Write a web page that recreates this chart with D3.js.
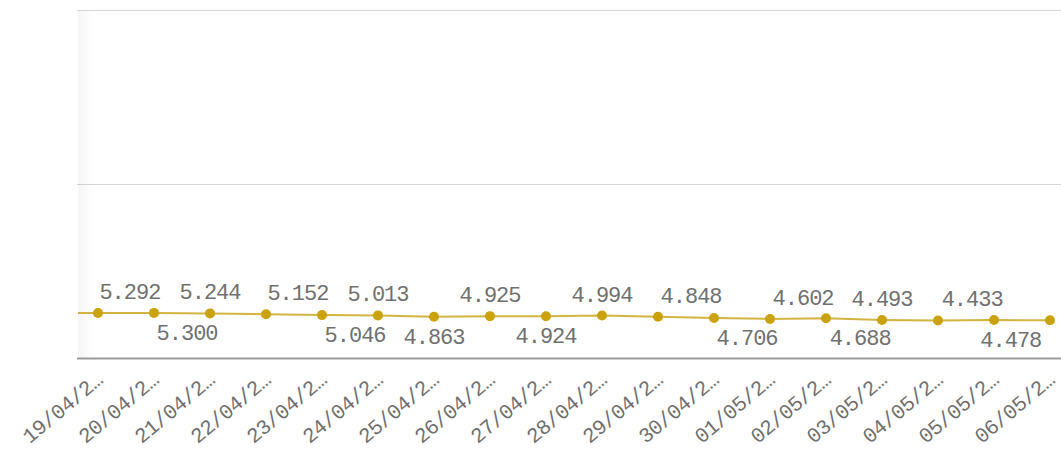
<!DOCTYPE html>
<html>
<head>
<meta charset="utf-8">
<script src="https://cdn.jsdelivr.net/npm/d3@7"></script>
<style>
  body { margin: 0; background: #fff; }
  svg { display: block; }
</style>
</head>
<body>
<svg id="canvas"></svg>
<script>
const WIDTH = 1061;
const HEIGHT = 453;

// dates (first one is scrolled out of view on the left)
const dates = ["18/04/2…", "19/04/2…", "20/04/2…", "21/04/2…", "22/04/2…", "23/04/2…",
    "24/04/2…", "25/04/2…", "26/04/2…", "27/04/2…", "28/04/2…", "29/04/2…",
    "30/04/2…", "01/05/2…", "02/05/2…", "03/05/2…", "04/05/2…", "05/05/2…", "06/05/2…"];
const values = [5.31, 5.292, 5.300, 5.244, 5.152, 5.046, 5.013, 4.863, 4.925, 4.924,
    4.994, 4.848, 4.706, 4.602, 4.688, 4.493, 4.433, 4.478, 4.45];
const labelled = [false, true, true, true, true, true, true, true, true, true,
    true, true, true, true, true, true, true, true, false];
const yTicks = [0, 20, 40];

// label placement (side + nudge in steps), as laid out in the original
const LABEL_SIDE = ["", "up", "down", "up", "up", "down", "up", "down", "up", "down",
    "up", "up", "down", "up", "down", "up", "up", "down", ""];
const LABEL_NUDGE = [0, 0.57, 0.59, 0, 0.57, 0.59, 0, 0, 0, 0,
    0, 0.59, 0.59, 0.59, 0.61, 0, 0.61, 0.3, 0];

const plot = { left: 78, right: WIDTH, top: 10, bottom: 358 };

const data = dates.map((d, i) => ({ date: d, value: values[i], i: i }));

const x = d3.scaleLinear([1, dates.length - 1], [98, 1050]);
const y = d3.scaleLinear([0, 40], [plot.bottom, plot.top]);

const svg = d3.select('#canvas')
    .attr('width', WIDTH)
    .attr('height', HEIGHT);

const defs = svg.append('defs');
defs.append('clipPath').attr('id', 'plotClip')
    .append('rect')
    .attr('x', plot.left).attr('y', 0)
    .attr('width', plot.right - plot.left).attr('height', plot.bottom + 2);
const grad = defs.append('linearGradient').attr('id', 'shade')
    .attr('x1', 0).attr('x2', 1).attr('y1', 0).attr('y2', 0);
grad.append('stop').attr('offset', 0).attr('stop-color', '#000').attr('stop-opacity', 0.04);
grad.append('stop').attr('offset', 1).attr('stop-color', '#000').attr('stop-opacity', 0);

// gridlines
svg.append('g')
    .selectAll('line')
    .data(yTicks.filter(t => t !== 0))
    .enter()
    .append('line')
    .attr('x1', plot.left - 1).attr('x2', plot.right)
    .attr('y1', d => y(d) + 0.5).attr('y2', d => y(d) + 0.5)
    .attr('stroke', '#d6d6d6')
    .attr('stroke-width', 1);

// scroll shadow on the left edge
svg.append('rect')
    .attr('x', plot.left).attr('y', plot.top + 1)
    .attr('width', 16).attr('height', plot.bottom - plot.top - 1)
    .attr('fill', 'url(#shade)');

// baseline
svg.append('line')
    .attr('x1', plot.left - 1).attr('x2', plot.right)
    .attr('y1', y(0) + 0.5).attr('y2', y(0) + 0.5)
    .attr('stroke', '#9a9a9a')
    .attr('stroke-width', 2);

const plotGroup = svg.append('g').attr('clip-path', 'url(#plotClip)');

plotGroup.append('path')
    .datum(data)
    .attr('fill', 'none')
    .attr('stroke', '#d3b440')
    .attr('stroke-width', 2)
    .attr('d', d3.line().x(d => x(d.i)).y(d => y(d.value) + 1));

plotGroup.selectAll('circle')
    .data(data)
    .enter()
    .append('circle')
    .attr('cx', d => x(d.i))
    .attr('cy', d => y(d.value) + 1)
    .attr('r', 5)
    .attr('fill', '#c9a20d');

// value labels
const fmt = d3.format('.3f');
svg.append('g')
    .selectAll('text')
    .data(data.filter(d => labelled[d.i]))
    .enter()
    .append('text')
    .attr('x', d => x(d.i + LABEL_NUDGE[d.i]))
    .attr('y', d => LABEL_SIDE[d.i] === 'up' ? y(d.value) - 13 : y(d.value) + 28)
    .attr('text-anchor', 'middle')
    .attr('font-family', 'Liberation Mono')
    .attr('font-size', 22)
    .attr('letter-spacing', -1)
    .attr('fill', '#707070')
    .text(d => fmt(d.value));

// x axis labels
svg.append('g')
    .selectAll('text')
    .data(data.filter(d => x(d.i) >= plot.left))
    .enter()
    .append('text')
    .attr('transform', d => `translate(${x(d.i) + 6}, ${plot.bottom + 24}) rotate(-40)`)
    .attr('text-anchor', 'end')
    .attr('font-family', 'Liberation Mono')
    .attr('font-size', 21)
    .attr('letter-spacing', -0.5)
    .attr('fill', '#707070')
    .text(d => d.date);
</script>
</body>
</html>
